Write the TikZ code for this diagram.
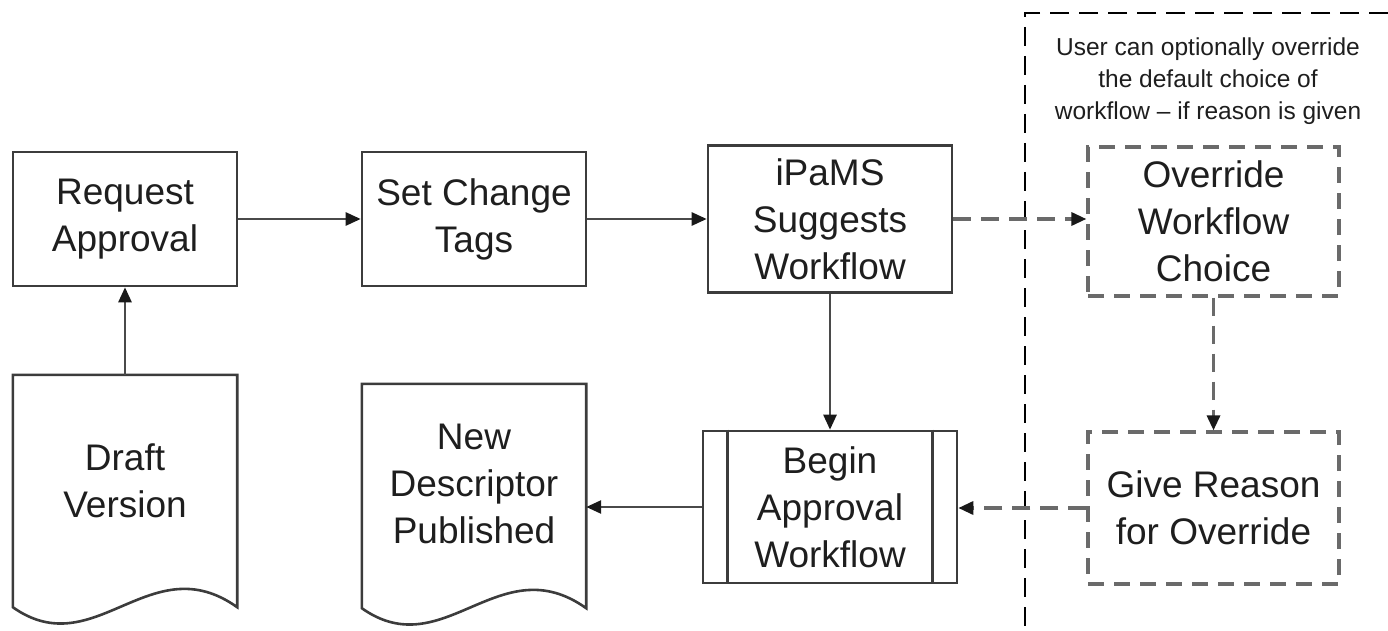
\documentclass[tikz,border=0pt]{standalone}
\usepackage{fontspec}
\setmainfont{Liberation Sans}
\usetikzlibrary{arrows.meta}
\definecolor{boxc}{HTML}{3C3C3C}
\definecolor{linec}{HTML}{4A4A4A}
\definecolor{dashc}{HTML}{6A6A6A}
\definecolor{txtc}{HTML}{1E1E1E}
\newcommand\mainfs{\fontsize{37}{47}\selectfont}
\newcommand\notefs{\fontsize{24.5}{32}\selectfont}
\begin{document}
\begin{tikzpicture}[x=1pt,y=-1pt,
  proc/.style={draw=boxc, line width=2.6pt, inner sep=0pt, align=center, font=\mainfs, text=txtc},
  dproc/.style={proc, draw=dashc, line width=3.2pt, dash pattern=on 16pt off 10pt},
  docframe/.style={inner sep=0pt, draw=none, minimum width=224pt},
  docline/.style={draw=boxc, line width=2.6pt, line join=miter},
  doctext/.style={inner sep=0pt, align=center, font=\mainfs, text=txtc},
  arr/.style={draw=linec, line width=2.6pt, -{Triangle[length=15pt,width=13pt,color=black!90]}},
  darr/.style={arr, draw=dashc, line width=3.2pt, dash pattern=on 18pt off 10pt},
  sep/.style={draw=black, line width=2pt, dash pattern=on 19pt off 10pt}]
\useasboundingbox (0,0) rectangle (1388,631);

% process boxes
\node[proc, minimum width=224pt, minimum height=134pt] (req) at (125,219) {Request\\Approval};
\node[proc, minimum width=224pt, minimum height=134pt] (tags) at (474,219) {Set Change\\Tags};
\node[proc, minimum width=244pt, minimum height=147pt] (ipams) at (830,219) {iPaMS\\Suggests\\Workflow};
\node[proc, minimum width=254pt, minimum height=152pt] (begin) at (830,507) {Begin\\Approval\\Workflow};
\draw[boxc, line width=2.6pt] ([xshift=26pt]begin.north west) -- ([xshift=26pt]begin.south west);
\draw[boxc, line width=2.6pt] ([xshift=-26pt]begin.north east) -- ([xshift=-26pt]begin.south east);

% dashed boxes
\node[dproc, minimum width=251pt, minimum height=149pt] (over) at (1213.5,221.5) {Override\\Workflow\\Choice};
\node[dproc, minimum width=251pt, minimum height=152pt] (give) at (1213.5,508) {Give Reason\\for Override};

% documents
\node[docframe, minimum height=232pt] (draft) at (125,491) {};
\draw[docline] (draft.south west) -- (draft.north west) -- (draft.north east) -- (draft.south east)
  .. controls +(-87,-62) and +(82,58) .. (draft.south west) -- cycle;
\node[doctext] (drafttxt) at (125,481) {Draft\\Version};

\node[docframe, minimum height=224pt] (pub) at (474,496) {};
\draw[docline] (pub.south west) -- (pub.north west) -- (pub.north east) -- (pub.south east)
  .. controls +(-87,-62) and +(82,58) .. (pub.south west) -- cycle;
\node[doctext] (pubtxt) at (474,484) {New\\Descriptor\\Published};

% separator and note
\coordinate (sepA) at (1388,13);
\coordinate (sepB) at (1025,13);
\coordinate (sepC) at (1025,631);
\draw[sep] (sepA) -- (sepB) -- (sepC);
\node[inner sep=0pt, align=center, font=\notefs, text=txtc] (note) at (1208,81)
  {User can optionally override\\the default choice of\\workflow -- if reason is given};

% connectors
\draw[arr] (req.east) -- (tags.west);
\draw[arr] (tags.east) -- (ipams.west);
\draw[darr] (ipams.east) -- (ipams.east -| over.west);
\draw[darr] (over.south) -- (give.north);
\draw[arr] (ipams.south) -- (begin.north);
\draw[darr] (give.west) -- (give.west -| begin.east);
\draw[arr] (begin.west) -- (begin.west -| pub.east);
\draw[arr] (draft.north) -- (req.south);
\end{tikzpicture}
\end{document}
